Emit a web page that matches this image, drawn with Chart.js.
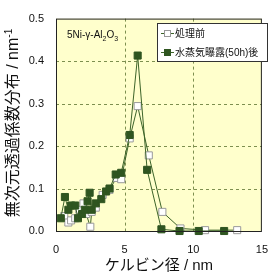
<!DOCTYPE html>
<html>
<head>
<meta charset="UTF-8">
<title>Kelvin</title>
<script src="https://cdn.jsdelivr.net/npm/chart.js@4/dist/chart.umd.min.js"></script>
<style>
  html, body { margin: 0; padding: 0; background: #fff; }
  #wrap { width: 280px; height: 280px; }
</style>
</head>
<body>
<div id="wrap"><canvas id="kelvinChart" width="280" height="280"></canvas></div>
<script>
// 処理前 (open squares)
var beforeX = [0.6, 0.9, 1.1, 1.4, 1.7, 2.0, 2.2, 2.5, 2.6, 2.9, 3.4, 3.9, 4.4, 4.75, 5.37, 5.95, 6.76, 7.75, 9.07, 10.86, 13.2];
var beforeY = [0.035, 0.02, 0.025, 0.03, 0.05, 0.065, 0.04, 0.01, 0.045, 0.055, 0.085, 0.097, 0.125, 0.122, 0.218, 0.294, 0.178, 0.045, 0.006, 0.002, 0.002];
// 水蒸気曝露(50h)後 (filled squares)
var afterX = [0.35, 0.65, 0.9, 1.1, 1.4, 1.6, 1.9, 2.1, 2.3, 2.45, 2.6, 2.9, 3.3, 3.65, 3.9, 4.35, 4.75, 5.37, 5.95, 6.64, 7.68, 9.0, 10.4, 12.25];
var afterY = [0.03, 0.08, 0.05, 0.06, 0.06, 0.03, 0.04, 0.05, 0.07, 0.09, 0.05, 0.065, 0.075, 0.093, 0.1, 0.133, 0.137, 0.226, 0.413, 0.144, 0.004, 0.0, 0.0, 0.0];

var seriesNames = ['処理前', '水蒸気曝露(50h)後'];
var xTicks = [0, 5, 10, 15];
var yTicks = [0, 0.1, 0.2, 0.3, 0.4, 0.5];

function toPoints(xs, ys) {
  var pts = [];
  for (var i = 0; i < xs.length; i++) pts.push({x: xs[i], y: ys[i]});
  return pts;
}

var jp = '"Liberation Sans", Arial, "Noto Sans CJK JP", sans-serif';
var lineColor = '#3d6429';
var fillColor = '#2f5520';

// plot background + frame + labels + custom legend
var decor = {
  id: 'decor',
  beforeDatasetsDraw: function (chart) {
    var a = chart.chartArea, c = chart.ctx;
    c.save();
    c.fillStyle = '#ffffcc';
    c.fillRect(a.left, a.top, a.right - a.left, a.bottom - a.top);
    // dashed grid
    c.strokeStyle = '#7d8f4f';
    c.lineWidth = 1;
    c.setLineDash([3, 3]);
    var xs = chart.scales.x, ys = chart.scales.y;
    [5, 10].forEach(function (v) {
      var px = Math.round(xs.getPixelForValue(v)) + 0.5;
      c.beginPath(); c.moveTo(px, a.top); c.lineTo(px, a.bottom); c.stroke();
    });
    [0.1, 0.2, 0.3, 0.4].forEach(function (v) {
      var py = Math.round(ys.getPixelForValue(v)) + 0.5;
      c.beginPath(); c.moveTo(a.left, py); c.lineTo(a.right, py); c.stroke();
    });
    c.setLineDash([]);
    c.restore();
  },
  afterDatasetsDraw: function (chart) {
    var a = chart.chartArea, c = chart.ctx;
    c.save();
    c.strokeStyle = '#222';
    c.lineWidth = 1;
    c.strokeRect(a.left + 0.5, a.top + 0.5, a.right - a.left - 1, a.bottom - a.top);

    // sample label 5Ni-γ-Al2O3
    c.fillStyle = '#111';
    c.textBaseline = 'alphabetic';
    c.textAlign = 'left';
    var x = 67, y = 38;
    var parts = [['5Ni-γ-Al', 10, 0], ['2', 7, 3], ['O', 10, 0], ['3', 7, 3]];
    parts.forEach(function (p) {
      c.font = p[1] + 'px ' + jp;
      c.fillText(p[0], x, y + p[2]);
      x += c.measureText(p[0]).width;
    });

    // legend
    c.fillStyle = '#fff';
    c.fillRect(157, 23, 110, 38);
    c.strokeStyle = '#333';
    c.strokeRect(157.5, 23.5, 110, 38);
    var rows = [[33, '#fff', '#999'], [52, fillColor, fillColor]];
    rows.forEach(function (r, i) {
      c.strokeStyle = lineColor;
      c.beginPath(); c.moveTo(161, r[0] + 0.5); c.lineTo(174, r[0] + 0.5); c.stroke();
      c.fillStyle = r[1];
      c.fillRect(164, r[0] - 3, 7, 7);
      c.strokeStyle = r[2];
      c.strokeRect(164.5, r[0] - 2.5, 6, 6);
      c.fillStyle = '#111';
      c.font = '10px ' + jp;
      c.textBaseline = 'middle';
      c.fillText(seriesNames[i], 175, r[0] + 1);
    });

    // y title with superscript
    c.translate(14, 123);
    c.rotate(-Math.PI / 2);
    c.textBaseline = 'middle';
    c.font = '16px ' + jp;
    var t1 = '無次元透過係数分布 / nm';
    var w1 = c.measureText(t1).width;
    c.font = '10px ' + jp;
    var w2 = c.measureText('-1').width;
    var sx = -(w1 + w2) / 2;
    c.font = '16px ' + jp;
    c.fillText(t1, sx, 0);
    c.font = '10px ' + jp;
    c.fillText('-1', sx + w1, -5);
    c.restore();
  }
};

var ctx = document.getElementById('kelvinChart').getContext('2d');
var kelvinChart = new Chart(ctx, {
  type: 'scatter',
  data: {
    datasets: [{
      label: seriesNames[1],
      data: toPoints(afterX, afterY),
      showLine: true,
      borderColor: lineColor,
      borderWidth: 1,
      pointStyle: 'rect',
      pointRadius: 5,
      pointBackgroundColor: fillColor,
      pointBorderColor: fillColor,
      pointBorderWidth: 1,
      clip: false
    }, {
      label: seriesNames[0],
      data: toPoints(beforeX, beforeY),
      showLine: true,
      borderColor: lineColor,
      borderWidth: 1,
      pointStyle: 'rect',
      pointRadius: 5,
      pointBackgroundColor: '#ffffff',
      pointBorderColor: '#9a9a9a',
      pointBorderWidth: 1,
      clip: false
    }]
  },
  options: {
    responsive: false,
    animation: false,
    layout: { padding: { top: 15, right: 8, left: 0, bottom: 5 } },
    plugins: { legend: { display: false }, tooltip: { enabled: false } },
    scales: {
      x: {
        type: 'linear', min: 0, max: 15,
        afterBuildTicks: function (s) { s.ticks = xTicks.map(function (v) { return {value: v}; }); },
        afterFit: function (s) { s.height = 44; },
        grid: { display: false, drawTicks: false },
        border: { display: false },
        ticks: { color: '#111', font: { size: 11, family: jp }, padding: 12 },
        title: { display: true, text: 'ケルビン径 / nm', color: '#111', font: { size: 15, family: jp }, padding: { top: 0, bottom: 0 } }
      },
      y: {
        type: 'linear', min: 0, max: 0.5,
        afterBuildTicks: function (s) { s.ticks = yTicks.map(function (v) { return {value: v}; }); },
        afterFit: function (s) { s.width = 56; },
        grid: { display: false, drawTicks: false },
        border: { display: false },
        ticks: { color: '#111', font: { size: 11, family: jp }, padding: 12,
          callback: function (v) { return v.toFixed(1); } }
      }
    }
  },
  plugins: [decor]
});
</script>
</body>
</html>
